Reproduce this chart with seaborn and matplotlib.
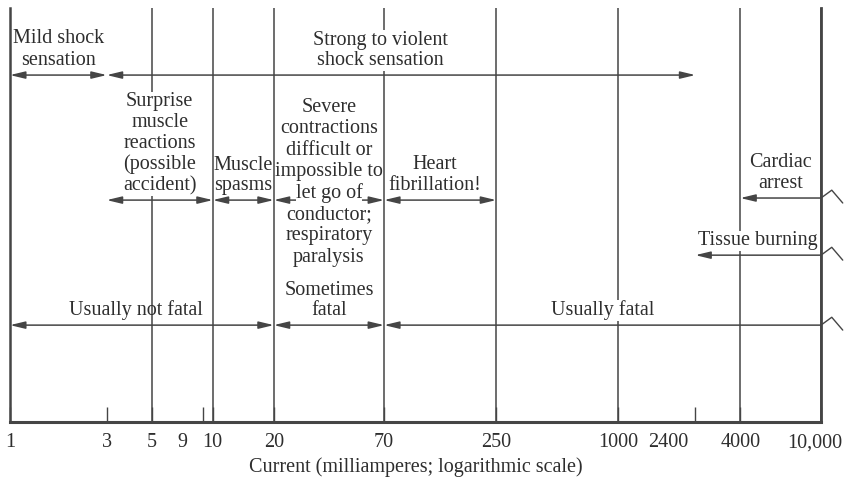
import numpy as np
import pandas as pd
import matplotlib
matplotlib.use("Agg")
import matplotlib.pyplot as plt
import seaborn as sns
from matplotlib.transforms import ScaledTranslation

# ---------------- data ----------------
effect_labels = [
    "Mild shock\nsensation",
    "Strong to violent\nshock sensation",
    "Surprise\nmuscle\nreactions\n(possible\naccident)",
    "Muscle\nspasms",
    "Severe\ncontractions\ndifficult or\nimpossible to\nlet go of\nconductor;\nrespiratory\nparalysis",
    "Heart\nfibrillation!",
    "Cardiac\narrest",
    "Tissue burning",
    "Usually not fatal",
    "Sometimes\nfatal",
    "Usually fatal",
]
effect_start_ma = [1, 3, 3, 10, 20, 70, 4000, 2400, 1, 20, 70]
effect_end_ma = [3, 2400, 10, 20, 70, 250, 10000, 10000, 20, 70, 10000]
effect_open_right = [False, False, False, False, False, False, True, True, False, False, True]
effect_group = ["sensation", "sensation", "reaction", "reaction", "reaction", "reaction",
                "cardiac", "burn", "fatality", "fatality", "fatality"]

boundary_ma = [1, 5, 10, 20, 70, 250, 1000, 4000, 10000]
tick_values = [1, 3, 5, 9, 10, 20, 70, 250, 1000, 2400, 4000, 10000]
tick_labels = ["1", "3", "5", "9", "10", "20", "70", "250", "1000", "2400", "4000", "10,000"]

# ---------------- style / layout ----------------
sns.set_theme(style="white")
plt.rcParams["font.family"] = ["Liberation Serif", "DejaVu Serif"]
TXT = "#2e2e2e"
LN = "#454545"
FS = 14.5

row_y = {"sensation": 0.838, "reaction": 0.536, "cardiac": 0.541, "burn": 0.403, "fatality": 0.234}
masked = {1, 2, 7, 10}          # labels drawn on white so lines break behind them
split_label = 4                  # label drawn line by line around its arrow
label_shift = {1: -21, 5: -5, 8: -6}   # horizontal nudge (px) of label centre
label_spacing = {0: 1.25, 5: 1.18, 6: 1.15}

fig = plt.figure(figsize=(8.57, 4.82), dpi=100)
ax = fig.add_axes([10 / 857, 1 - 422 / 482, 811 / 857, 414 / 482])
ax.set_xscale("log")

# vertical boundary lines
vdf = pd.DataFrame({
    "current": np.repeat(boundary_ma, 2),
    "height": np.tile([0.0, 1.0], len(boundary_ma)),
    "line": np.repeat(np.arange(len(boundary_ma)), 2),
})
sns.lineplot(data=vdf, x="current", y="height", units="line", estimator=None,
             sort=False, color=LN, lw=1.1, ax=ax, legend=False)
for ln in ax.lines:
    ln.set_zorder(1)

ax.set_xlim(1, 10000)
ax.set_ylim(0, 1)
ax.set_yticks([])
ax.minorticks_off()

for side in ["left", "right", "bottom"]:
    ax.spines[side].set_visible(True)
    ax.spines[side].set_color(LN)
    ax.spines[side].set_zorder(1)
ax.spines["top"].set_visible(False)
ax.spines["left"].set_linewidth(1.8)
ax.spines["right"].set_linewidth(2.0)
ax.spines["bottom"].set_linewidth(2.2)

ax.set_xticks(tick_values)
ax.set_xticklabels(tick_labels, fontsize=FS, color=TXT)
ax.tick_params(axis="x", direction="in", length=11, width=1.0, color=LN, pad=8, bottom=True)
ax.set_xlabel("Current (milliamperes; logarithmic scale)", fontsize=FS, color=TXT, labelpad=4)
ax.set_ylabel("")

shifts_px = {"9": -21, "2400": -27, "10,000": -6}
for lab in ax.get_xticklabels():
    s = lab.get_text()
    if s in shifts_px:
        lab.set_transform(lab.get_transform() + ScaledTranslation(shifts_px[s] / 100, 0, fig.dpi_scale_trans))

# arrows, labels, break marks
for i, (lab, a, b, op, g) in enumerate(zip(effect_labels, effect_start_ma, effect_end_ma,
                                           effect_open_right, effect_group)):
    y = row_y[g]
    style = "<|-" if op else "<|-|>"
    ax.annotate("", xy=(b, y), xytext=(a, y),
                arrowprops=dict(arrowstyle=style + ",head_length=0.75,head_width=0.18",
                                color=LN, lw=1.1, shrinkA=0, shrinkB=0),
                zorder=2)
    if op:
        ax.plot([b, b * 1.13, b * 1.28], [y, y + 0.019, y - 0.012],
                color=LN, lw=1.0, clip_on=False, zorder=2)
    xc = np.sqrt(a * b)
    dx = label_shift.get(i, 0) * 0.72
    if i == split_label:
        lines = lab.split("\n")
        for k, t in enumerate(lines):
            off = (200 - (105 + 21.4 * k)) * 0.72
            ax.annotate(t, xy=(xc, y), xytext=(dx, off), textcoords="offset points",
                        ha="center", va="center_baseline", fontsize=FS, color=TXT,
                        bbox=dict(fc="white", ec="none", pad=0.0), zorder=5)
    else:
        kw = {}
        if i in masked:
            kw["bbox"] = dict(fc="white", ec="none", pad=0.5)
        ax.annotate(lab, xy=(xc, y), xytext=(dx, 3.5), textcoords="offset points",
                    ha="center", va="bottom", fontsize=FS, color=TXT,
                    linespacing=label_spacing.get(i, 1.12), zorder=5, **kw)

fig.savefig("out.png", dpi=100)
